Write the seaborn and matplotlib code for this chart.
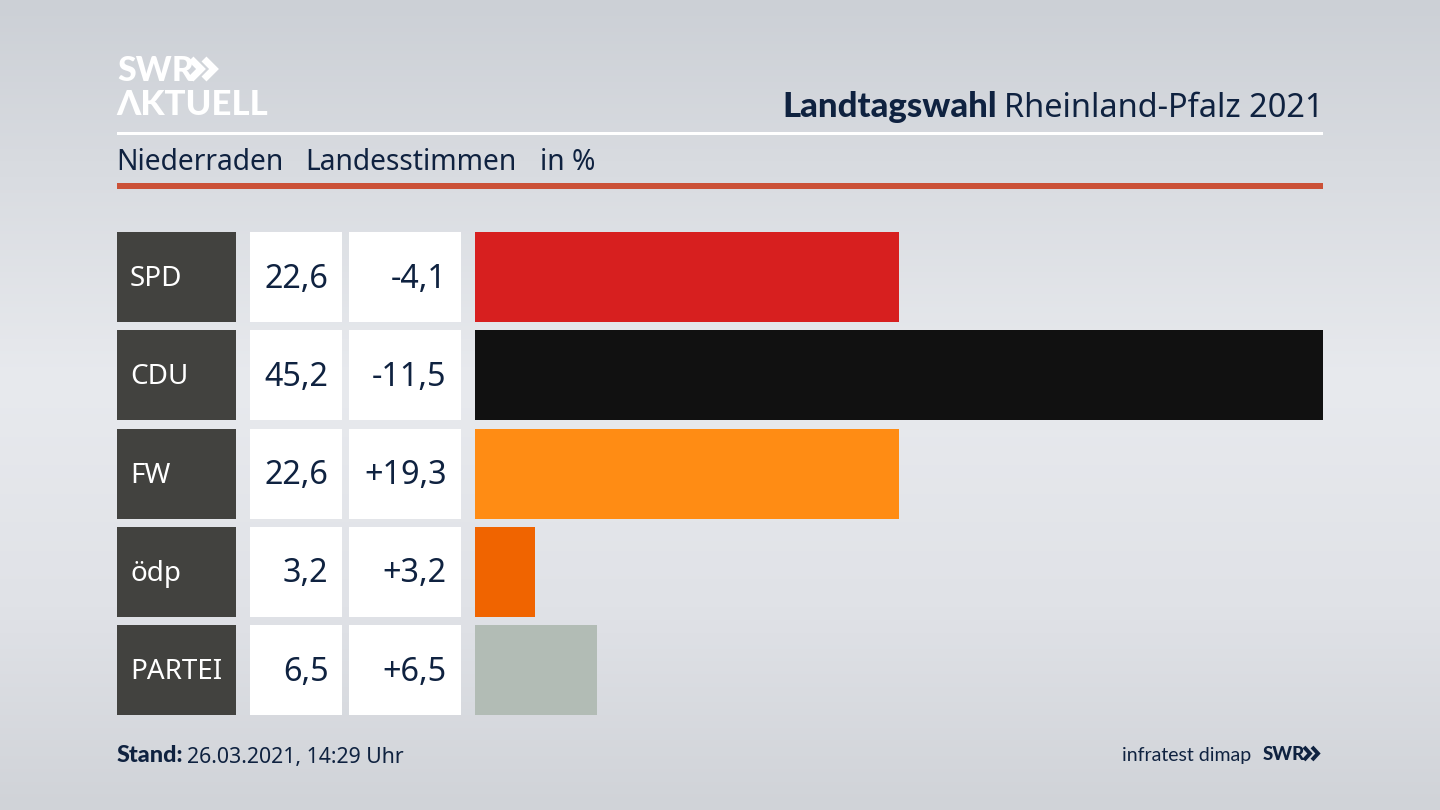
import numpy as np
import pandas as pd
import matplotlib
matplotlib.use("Agg")
import matplotlib.pyplot as plt
from matplotlib.colors import LinearSegmentedColormap
from matplotlib.patches import Rectangle
import seaborn as sns

parties = ["SPD", "CDU", "FW", "ödp", "PARTEI"]
shares = [22.6, 45.2, 22.6, 3.2, 6.5]
shares_text = ["22,6", "45,2", "22,6", "3,2", "6,5"]
changes_text = ["-4,1", "-11,5", "+19,3", "+3,2", "+6,5"]
colors = ["#d71f1f", "#111111", "#ff8c14", "#f06400", "#b2bcb5"]

title_bold = "Landtagswahl"
title_rest = "Rheinland-Pfalz 2021"
subtitle = ["Niederraden", "Landesstimmen", "in %"]
stand_label = "Stand:"
stand_value = "26.03.2021, 14:29 Uhr"
source = "infratest dimap"

NAVY = "#0f2240"
BOLD = ["Lato", "DejaVu Sans"]
sns.set_theme(style="white")
plt.rcParams["font.family"] = ["Noto Sans", "DejaVu Sans"]

fig = plt.figure(figsize=(14.4, 8.1), dpi=100)

# full-figure pixel canvas for background, header and table cells
bg = fig.add_axes([0, 0, 1, 1], zorder=0)
bg.set_xlim(0, 1440)
bg.set_ylim(810, 0)
bg.axis("off")
cmap = LinearSegmentedColormap.from_list(
    "bg", [(0, "#ccd0d6"), (0.2, "#d8dbe0"), (0.47, "#e8eaee"), (0.75, "#e0e2e7"), (1, "#d0d3d8")]
)
bg.imshow(np.linspace(0, 1, 256).reshape(-1, 1), cmap=cmap, aspect="auto",
          extent=(0, 1440, 810, 0), zorder=0)

# header
bg.text(117, 71, "SWR", color="white", fontsize=24.5, fontweight="black", family=BOLD, va="center", ha="left")
for x0 in (191, 204):
    bg.plot([x0, x0 + 10, x0], [59, 69, 79], color="white", lw=5, solid_joinstyle="miter",
            solid_capstyle="butt")
bg.text(116, 105, "ΛKTUELL", color="white", fontsize=25, fontweight="black", family=BOLD, va="center", ha="left")
bg.text(1324, 117, title_rest, color=NAVY, fontsize=23.4, va="baseline", ha="right")
bg.text(997, 117, title_bold, color=NAVY, fontsize=25, fontweight="black", family=BOLD, va="baseline", ha="right")
bg.add_patch(Rectangle((117, 132), 1206, 3, color="white", lw=0))
for x, s in zip((116, 305, 540), subtitle):
    bg.text(x, 163, s, color=NAVY, fontsize=20.3, va="center", ha="left")
bg.add_patch(Rectangle((117, 183), 1206, 6, color="#cb5137", lw=0))

# table cells
row_top, row_pitch, row_h = 232, 98.3, 90
for i, (p, s, c) in enumerate(zip(parties, shares_text, changes_text)):
    y = row_top + i * row_pitch
    bg.add_patch(Rectangle((117, y), 119, row_h, color="#42423f", lw=0))
    bg.add_patch(Rectangle((250, y), 92, row_h, color="white", lw=0))
    bg.add_patch(Rectangle((349, y), 112, row_h, color="white", lw=0))
    ym = y + row_h / 2
    bg.text(130, ym + 2, p, color="white", fontsize=20, va="center", ha="left")
    bg.text(328.5, ym + 2, s, color=NAVY, fontsize=23.3, va="center", ha="right")
    bg.text(446.5, ym + 2, c, color=NAVY, fontsize=23.3, va="center", ha="right")

# footer
bg.text(117, 756, stand_label, color=NAVY, fontsize=16.8, fontweight="black", family=BOLD, va="center", ha="left")
bg.text(187, 757, stand_value, color=NAVY, fontsize=15.3, va="center", ha="left")
bg.text(1251, 755, source, color=NAVY, fontsize=14, family=BOLD, va="center", ha="right")
bg.text(1263, 755, "SWR", color=NAVY, fontsize=13.5, fontweight="black", family=BOLD, va="center", ha="left")
for x0 in (1304, 1312):
    bg.plot([x0, x0 + 6, x0], [747, 753.5, 760], color=NAVY, lw=2.8, solid_joinstyle="miter",
            solid_capstyle="butt")

# bars
total_h = row_pitch * 5
top_px = row_top - (row_pitch - row_h) / 2
ax = fig.add_axes([475 / 1440, 1 - (top_px + total_h) / 810, (1323 - 475) / 1440, total_h / 810], zorder=1)
df = pd.DataFrame({"party": parties, "share": shares})
sns.barplot(data=df, x="share", y="party", hue="party", palette=colors, order=parties,
            width=row_h / row_pitch, saturation=1, legend=False, linewidth=0, ax=ax)
ax.set_xlim(0, max(shares))
ax.set_ylim(4.5, -0.5)
ax.axis("off")
ax.patch.set_alpha(0)

fig.savefig("out.png", dpi=100)
